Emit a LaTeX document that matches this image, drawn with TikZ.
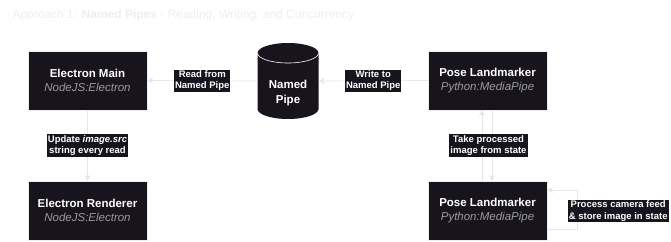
\documentclass[tikz,border=0pt]{standalone}
\usepackage{fontspec}
\setmainfont{Liberation Sans}
\usetikzlibrary{arrows.meta}
\definecolor{fond}{HTML}{18141D}
\definecolor{trait}{HTML}{E6E6E6}
\definecolor{titre}{HTML}{EEEEEE}
\definecolor{sous}{HTML}{9A9A9A}
\begin{document}
\begin{tikzpicture}[x=1pt,y=-1pt]
\tikzstyle{boite} = [draw=titre,fill=fond,text=white,align=center,minimum width=119pt,minimum height=59pt,inner sep=0pt,font=\fontsize{11.5}{14.5}\selectfont] %blocs
\tikzstyle{etiq} = [fill=fond,text=white,align=center,inner sep=1pt,font=\fontsize{9.5}{11.5}\selectfont\bfseries] %textes des liens
\tikzstyle{fleche} = [draw=trait,line width=0.7pt,-{Stealth[length=6pt,width=6pt]}]
\newcommand{\lang}[1]{\\[-1pt]{\color{sous}\itshape #1}}

\useasboundingbox (0,0) rectangle (671,241);

%titre
\node[anchor=west,text=titre,font=\fontsize{12}{14}\selectfont] (titre) at (9,15) {Approach 1: \textbf{Named Pipes} - Reading, Writing, and Concurrency};

%les blocs
\node[boite] (main) at (87.5,80.5) {\textbf{Electron Main}\lang{NodeJS:Electron}};
\node[boite] (rend) at (87.5,210.5) {\textbf{Electron Renderer}\lang{NodeJS:Electron}};
\node[boite] (pose) at (487.5,80.5) {\textbf{Pose Landmarker}\lang{Python:MediaPipe}};
\node[boite] (cam) at (487.5,210.5) {\textbf{Pose Landmarker}\lang{Python:MediaPipe}};

%le tube nomme
\node[minimum width=61pt,minimum height=76pt,inner sep=0pt] (pipe) at (288,81) {};
\fill[fond] (257.5,109) arc(180:360:30.5pt and 10pt) -- (318.5,53) arc(0:180:30.5pt and 10pt) -- cycle;
\draw[white,line width=0.6pt] (257.5,53) arc(180:360:30.5pt and 10pt);
\node[text=white,align=center,font=\fontsize{11.5}{14.5}\selectfont\bfseries] at (288,93) {Named\\Pipe};

%les liens
\draw[fleche] (pipe.west) -- node[etiq]{Read from\\Named Pipe} (main.east);
\draw[fleche] (pose.west) -- node[etiq]{Write to\\Named Pipe} (pipe.east);
\draw[fleche] (main) -- node[etiq]{Update \textit{image.src}\\string every read} (rend);
\draw[fleche] ([xshift=4.5pt]pose.south) -- ([xshift=4.5pt]cam.north);
\draw[fleche] ([xshift=-5.5pt]cam.north) -- node[etiq,xshift=6.5pt]{Take processed\\image from state} ([xshift=-5.5pt]pose.south);
\draw[fleche] ([yshift=-18.5pt]cam.east) -| node[etiq,pos=0.75,xshift=41pt,yshift=-1.5pt]{Process camera feed\\\& store image in state} ([xshift=30pt,yshift=20.5pt]cam.east) -- ([yshift=20.5pt]cam.east);
\end{tikzpicture}
\end{document}
